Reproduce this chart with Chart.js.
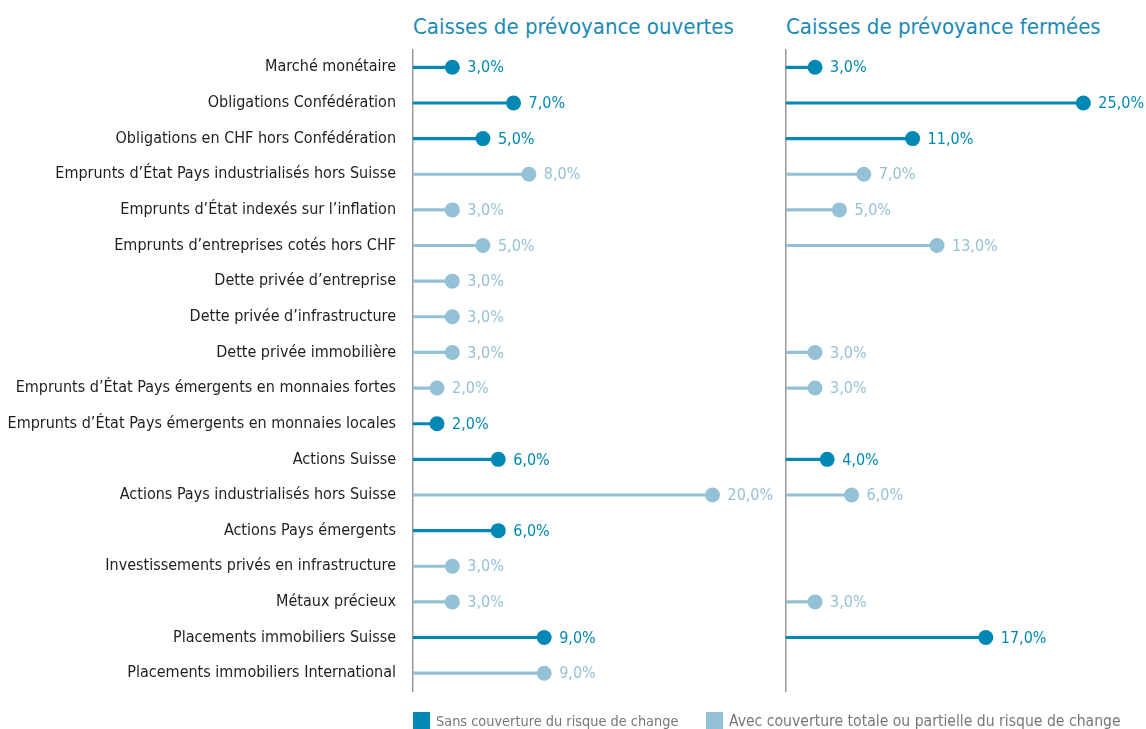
<!DOCTYPE html>
<html>
<head>
<meta charset="utf-8">
<script src="https://cdn.jsdelivr.net/npm/chart.js@4/dist/chart.umd.min.js"></script>
<style>
  body { margin: 0; background: #fff; width: 1146px; height: 729px; position: relative; overflow: hidden;
         font-family: "Liberation Sans Narrow", "DejaVu Sans Condensed", "Open Sans", sans-serif; }
  .titre { position: absolute; top: 14px; color: #1a8ab5; font-size: 22px; white-space: nowrap; }
  #left { position: absolute; left: 0; top: 0; }
  #right { position: absolute; left: 776px; top: 0; }
  .leg { position: absolute; top: 712px; font-size: 15px; color: #777; white-space: nowrap; }
  .leg span { display: inline-block; width: 17px; height: 17px; vertical-align: -3px; margin-right: 6px; }
</style>
</head>
<body>
<div class="titre" style="left:413px">Caisses de prévoyance ouvertes</div>
<div class="titre" style="left:786px">Caisses de prévoyance fermées</div>
<canvas id="left" width="776" height="729"></canvas>
<canvas id="right" width="370" height="729"></canvas>
<div class="leg" style="left:413px; font-size:14.4px"><span style="background:#0088b5"></span>Sans couverture du risque de change</div>
<div class="leg" style="left:706px; font-size:15.6px"><span style="background:#95c1d6"></span>Avec couverture totale ou partielle du risque de change</div>
<script>
// catégories de placement
let categories = [
  "Marché monétaire",
  "Obligations Confédération",
  "Obligations en CHF hors Confédération",
  "Emprunts d’État Pays industrialisés hors Suisse",
  "Emprunts d’État indexés sur l’inflation",
  "Emprunts d’entreprises cotés hors CHF",
  "Dette privée d’entreprise",
  "Dette privée d’infrastructure",
  "Dette privée immobilière",
  "Emprunts d’État Pays émergents en monnaies fortes",
  "Emprunts d’État Pays émergents en monnaies locales",
  "Actions Suisse",
  "Actions Pays industrialisés hors Suisse",
  "Actions Pays émergents",
  "Investissements privés en infrastructure",
  "Métaux précieux",
  "Placements immobiliers Suisse",
  "Placements immobiliers International"
];
// true = avec couverture du risque de change
let couverture = [false, false, false, true, true, true, true, true, true, true, false, false, true, false, true, true, false, true];

// parts en %
let ouvertes = [3, 7, 5, 8, 3, 5, 3, 3, 3, 2, 2, 6, 20, 6, 3, 3, 9, 9];
let fermees = [3, 25, 11, 7, 5, 13, null, null, 3, 3, null, 4, 6, null, null, 3, 17, null];

const FONCE = "#0088b5";
const CLAIR = "#95c1d6";
const POLICE = '"Liberation Sans Narrow", "DejaVu Sans Condensed", "Open Sans", sans-serif';
let couleurs = couverture.map(c => c ? CLAIR : FONCE);

// étiquettes des valeurs à droite des points
const etiquettes = {
  id: "etiquettes",
  afterDatasetsDraw(chart) {
    const ctx = chart.ctx;
    const meta = chart.getDatasetMeta(1);
    const vals = chart.data.datasets[1].data;
    ctx.save();
    ctx.font = "16px " + POLICE;
    ctx.textBaseline = "middle";
    meta.data.forEach((pt, i) => {
      if (vals[i] == null) return;
      ctx.fillStyle = couleurs[i];
      ctx.fillText(vals[i].toFixed(1).replace(".", ",") + "%", pt.x + 15, pt.y + 1);
    });
    ctx.restore();
  }
};

function creer(id, valeurs, xmin, xmax, avecLabels) {
  return new Chart(document.getElementById(id).getContext("2d"), {
    data: {
      labels: categories,
      datasets: [
        {
          type: "bar",
          data: valeurs.map(v => v == null ? null : [xmin, v]),
          backgroundColor: couleurs,
          barThickness: 2.5,
          order: 2
        },
        {
          type: "line",
          data: valeurs,
          showLine: false,
          pointRadius: 7.5,
          pointHoverRadius: 7.5,
          pointBackgroundColor: couleurs,
          pointBorderWidth: 0,
          order: 1
        }
      ]
    },
    options: {
      indexAxis: "y",
      responsive: false,
      animation: false,
      events: [],
      layout: { padding: { top: 49.5, bottom: 38, left: avecLabels ? 0 : 10, right: 0 } },
      plugins: { legend: { display: false }, tooltip: { enabled: false } },
      scales: {
        x: { type: "linear", min: xmin, max: xmax, display: false },
        y: {
          type: "category",
          offset: true,
          grid: { display: false },
          border: { display: true, color: "#999", width: 1.5 },
          ticks: {
            display: avecLabels,
            color: "#1e1e1e",
            padding: 9,
            font: { family: POLICE, size: 16 }
          },
          afterFit(scale) { scale.width = avecLabels ? 413 : 0; }
        }
      }
    },
    plugins: [etiquettes]
  });
}

creer("left", ouvertes, 0.43, 23.66, true);
creer("right", fermees, 0.62, 29.52, false);
</script>
</body>
</html>
